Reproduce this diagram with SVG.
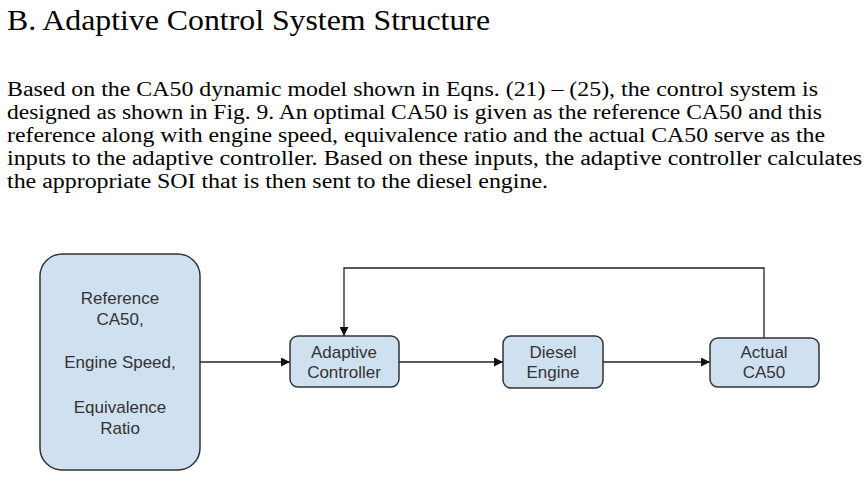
<svg xmlns="http://www.w3.org/2000/svg" width="865" height="478" viewBox="0 0 865 478">
<style>
.t{font-family:"Liberation Serif",serif;fill:#000}
.n{fill:#cfe0f1;stroke:#333;stroke-width:1.5}
.l{font-family:"Liberation Sans",sans-serif;font-size:17px;fill:#333;text-anchor:middle}
.c{fill:none;stroke:#222;stroke-width:1.3;marker-end:url(#a)}
</style>
<defs><marker id="a" viewBox="0 0 10 10" refX="10" refY="5" markerWidth="12" markerHeight="9" markerUnits="userSpaceOnUse" orient="auto"><path d="M0,0L10,5L0,10z" fill="#111"/></marker></defs>
<rect width="865" height="478" fill="#fff"/>
<text class="t" x="7" y="30" font-size="29" textLength="483" lengthAdjust="spacingAndGlyphs">B. Adaptive Control System Structure</text>
<g class="t" font-size="20" lengthAdjust="spacingAndGlyphs">
<text x="7" y="96" textLength="811" lengthAdjust="spacingAndGlyphs">Based on the CA50 dynamic model shown in Eqns. (21) – (25), the control system is</text>
<text x="7" y="119" textLength="815" lengthAdjust="spacingAndGlyphs">designed as shown in Fig. 9. An optimal CA50 is given as the reference CA50 and this</text>
<text x="7" y="142" textLength="818" lengthAdjust="spacingAndGlyphs">reference along with engine speed, equivalence ratio and the actual CA50 serve as the</text>
<text x="7" y="165" textLength="855" lengthAdjust="spacingAndGlyphs">inputs to the adaptive controller. Based on these inputs, the adaptive controller calculates</text>
<text x="7" y="188" textLength="541" lengthAdjust="spacingAndGlyphs">the appropriate SOI that is then sent to the diesel engine.</text>
</g>
<g id="connectors">
<path class="c" d="M200,362H290"/>
<path class="c" d="M399,362H503"/>
<path class="c" d="M603,362H710"/>
<path class="c" d="M764,338V268H344V336"/>
</g>
<g id="inputs"><rect class="n" x="40" y="254" width="160" height="216" rx="22"/>
<text class="l" x="120" y="304">Reference</text><text class="l" x="120" y="325">CA50,</text>
<text class="l" x="120" y="368">Engine Speed,</text>
<text class="l" x="120" y="413">Equivalence</text><text class="l" x="120" y="434">Ratio</text></g>
<g id="controller"><rect class="n" x="290" y="336" width="109" height="51" rx="8"/>
<text class="l" x="344" y="358">Adaptive</text><text class="l" x="344" y="378">Controller</text></g>
<g id="engine"><rect class="n" x="503" y="336" width="100" height="52" rx="8"/>
<text class="l" x="553" y="358">Diesel</text><text class="l" x="553" y="378">Engine</text></g>
<g id="actual"><rect class="n" x="710" y="338" width="109" height="49" rx="8"/>
<text class="l" x="764" y="358">Actual</text><text class="l" x="764" y="378">CA50</text></g>
</svg>
